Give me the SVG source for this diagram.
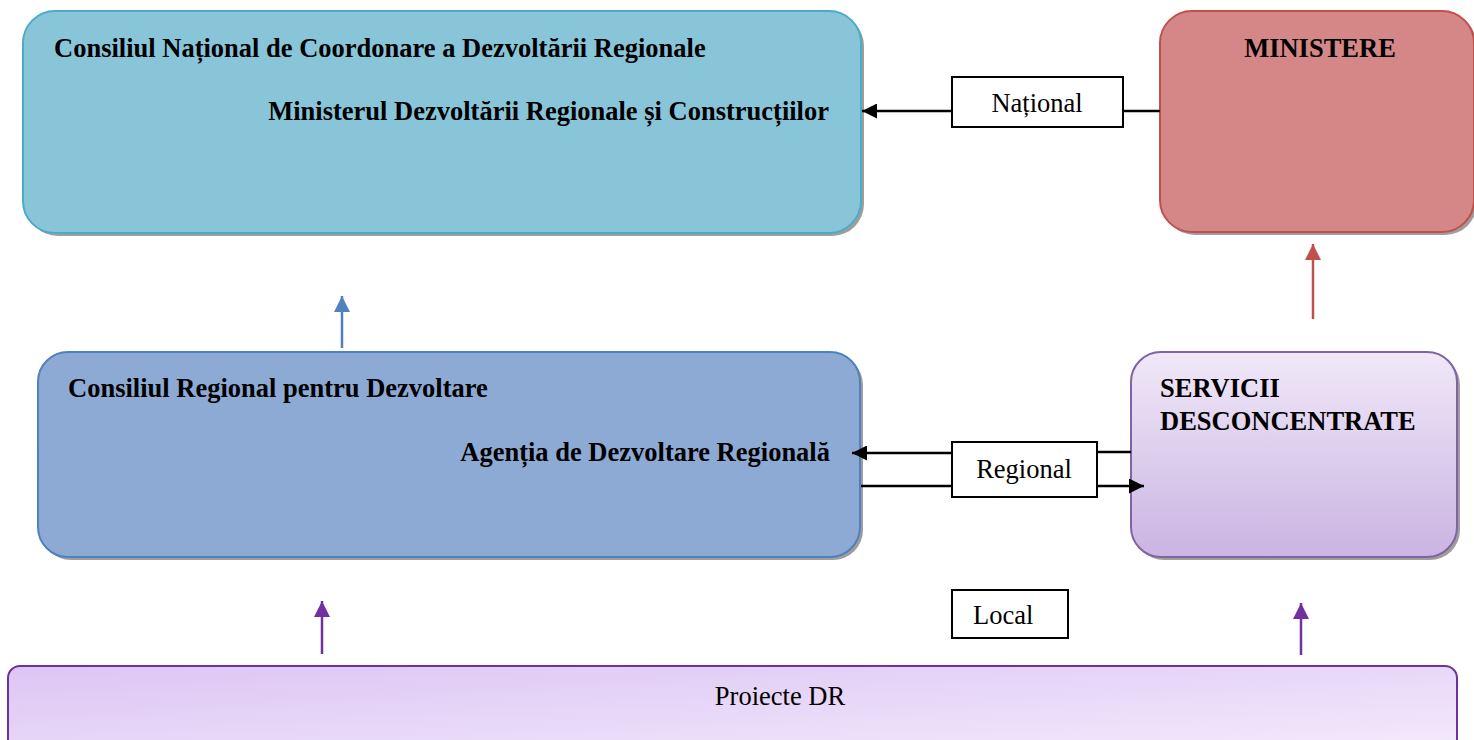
<svg xmlns="http://www.w3.org/2000/svg" width="1474" height="740" viewBox="0 0 1474 740">
<defs>
<style>
.b{font-family:"Liberation Serif","Times New Roman",serif;font-weight:bold;font-size:26.5px;fill:#000}
.r{font-family:"Liberation Serif","Times New Roman",serif;font-size:26.5px;fill:#000}
.sh{fill:#9E9E9E}
.lbl{fill:#fff;stroke:#000;stroke-width:2}
.k{stroke:#000;stroke-width:2.5;fill:none}
</style>
<linearGradient id="gS" x1="0" y1="0" x2="0" y2="1">
<stop offset="0" stop-color="#F0E8F8"/>
<stop offset="1" stop-color="#CAB4E3"/>
</linearGradient>
<linearGradient id="gP" x1="0" y1="0" x2="1" y2="1">
<stop offset="0" stop-color="#DDC5F4"/>
<stop offset="1" stop-color="#F4EBFC"/>
</linearGradient>
<marker id="ak" viewBox="0 0 10 10" refX="10" refY="5" markerWidth="6" markerHeight="6" orient="auto" markerUnits="strokeWidth"><path d="M0,0L10,5L0,10z" fill="#000"/></marker>
<marker id="ab" viewBox="0 0 10 10" refX="10" refY="5" markerWidth="6.5" markerHeight="6.5" orient="auto" markerUnits="strokeWidth"><path d="M0,0L10,5L0,10z" fill="#4F81BD"/></marker>
<marker id="ar" viewBox="0 0 10 10" refX="10" refY="5" markerWidth="6.5" markerHeight="6.5" orient="auto" markerUnits="strokeWidth"><path d="M0,0L10,5L0,10z" fill="#C0504D"/></marker>
<marker id="ap" viewBox="0 0 10 10" refX="10" refY="5" markerWidth="6.5" markerHeight="6.5" orient="auto" markerUnits="strokeWidth"><path d="M0,0L10,5L0,10z" fill="#7030A0"/></marker>
</defs>
<rect width="1474" height="740" fill="#fff"/>

<g id="cndr">
<rect class="sh" x="26" y="14" width="838" height="222" rx="32"/>
<rect x="23" y="11" width="838" height="222" rx="32" fill="#89C5D9" stroke="#4BACC6" stroke-width="2"/>
<text class="b" x="54" y="57">Consiliul Național de Coordonare a Dezvoltării Regionale</text>
<text class="b" x="829" y="120" text-anchor="end">Ministerul Dezvoltării Regionale și Construcțiilor</text>
</g>

<g id="ministere">
<rect class="sh" x="1163" y="14" width="314" height="221" rx="32"/>
<rect x="1160" y="11" width="314" height="221" rx="32" fill="#D58787" stroke="#C0504D" stroke-width="2"/>
<text class="b" x="1320" y="57" text-anchor="middle">MINISTERE</text>
</g>

<g id="crd">
<rect class="sh" x="41" y="355" width="822" height="205" rx="30"/>
<rect x="38" y="352" width="822" height="205" rx="30" fill="#8DAAD4" stroke="#4F81BD" stroke-width="2"/>
<text class="b" x="68" y="397">Consiliul Regional pentru Dezvoltare</text>
<text class="b" x="830" y="461" text-anchor="end">Agenția de Dezvoltare Regională</text>
</g>

<g id="servicii">
<rect class="sh" x="1134" y="355" width="326" height="205" rx="30"/>
<rect x="1131" y="352" width="326" height="205" rx="30" fill="url(#gS)" stroke="#8064A2" stroke-width="2"/>
<text class="b" x="1160" y="397">SERVICII</text>
<text class="b" x="1160" y="430">DESCONCENTRATE</text>
</g>

<g id="proiecte">
<rect x="8" y="666" width="1449" height="90" rx="12" fill="url(#gP)" stroke="#7030A0" stroke-width="2"/>
<text class="r" x="780" y="705" text-anchor="middle">Proiecte DR</text>
</g>

<g id="connectors">
<line class="k" x1="952" y1="111" x2="862" y2="111" marker-end="url(#ak)"/>
<line class="k" x1="1123" y1="111" x2="1160" y2="111"/>
<line class="k" x1="952" y1="453" x2="852" y2="453" marker-end="url(#ak)"/>
<line class="k" x1="1097" y1="452" x2="1131" y2="452"/>
<line class="k" x1="861" y1="486" x2="952" y2="486"/>
<line class="k" x1="1097" y1="486" x2="1144" y2="486" marker-end="url(#ak)"/>
<line x1="342" y1="348" x2="342" y2="296" stroke="#4F81BD" stroke-width="2.5" marker-end="url(#ab)"/>
<line x1="1313" y1="319" x2="1313" y2="244" stroke="#C0504D" stroke-width="2.5" marker-end="url(#ar)"/>
<line x1="322" y1="654" x2="322" y2="601" stroke="#7030A0" stroke-width="2.5" marker-end="url(#ap)"/>
<line x1="1301" y1="655" x2="1301" y2="603" stroke="#7030A0" stroke-width="2.5" marker-end="url(#ap)"/>
</g>

<g id="lbl-national">
<rect class="lbl" x="952" y="77" width="171" height="50"/>
<text class="r" x="1037" y="112" text-anchor="middle">Național</text>
</g>
<g id="lbl-regional">
<rect class="lbl" x="952" y="442" width="145" height="55"/>
<text class="r" x="1024" y="478" text-anchor="middle">Regional</text>
</g>
<g id="lbl-local">
<rect class="lbl" x="952" y="590" width="116" height="48"/>
<text class="r" x="973" y="624">Local</text>
</g>
</svg>
